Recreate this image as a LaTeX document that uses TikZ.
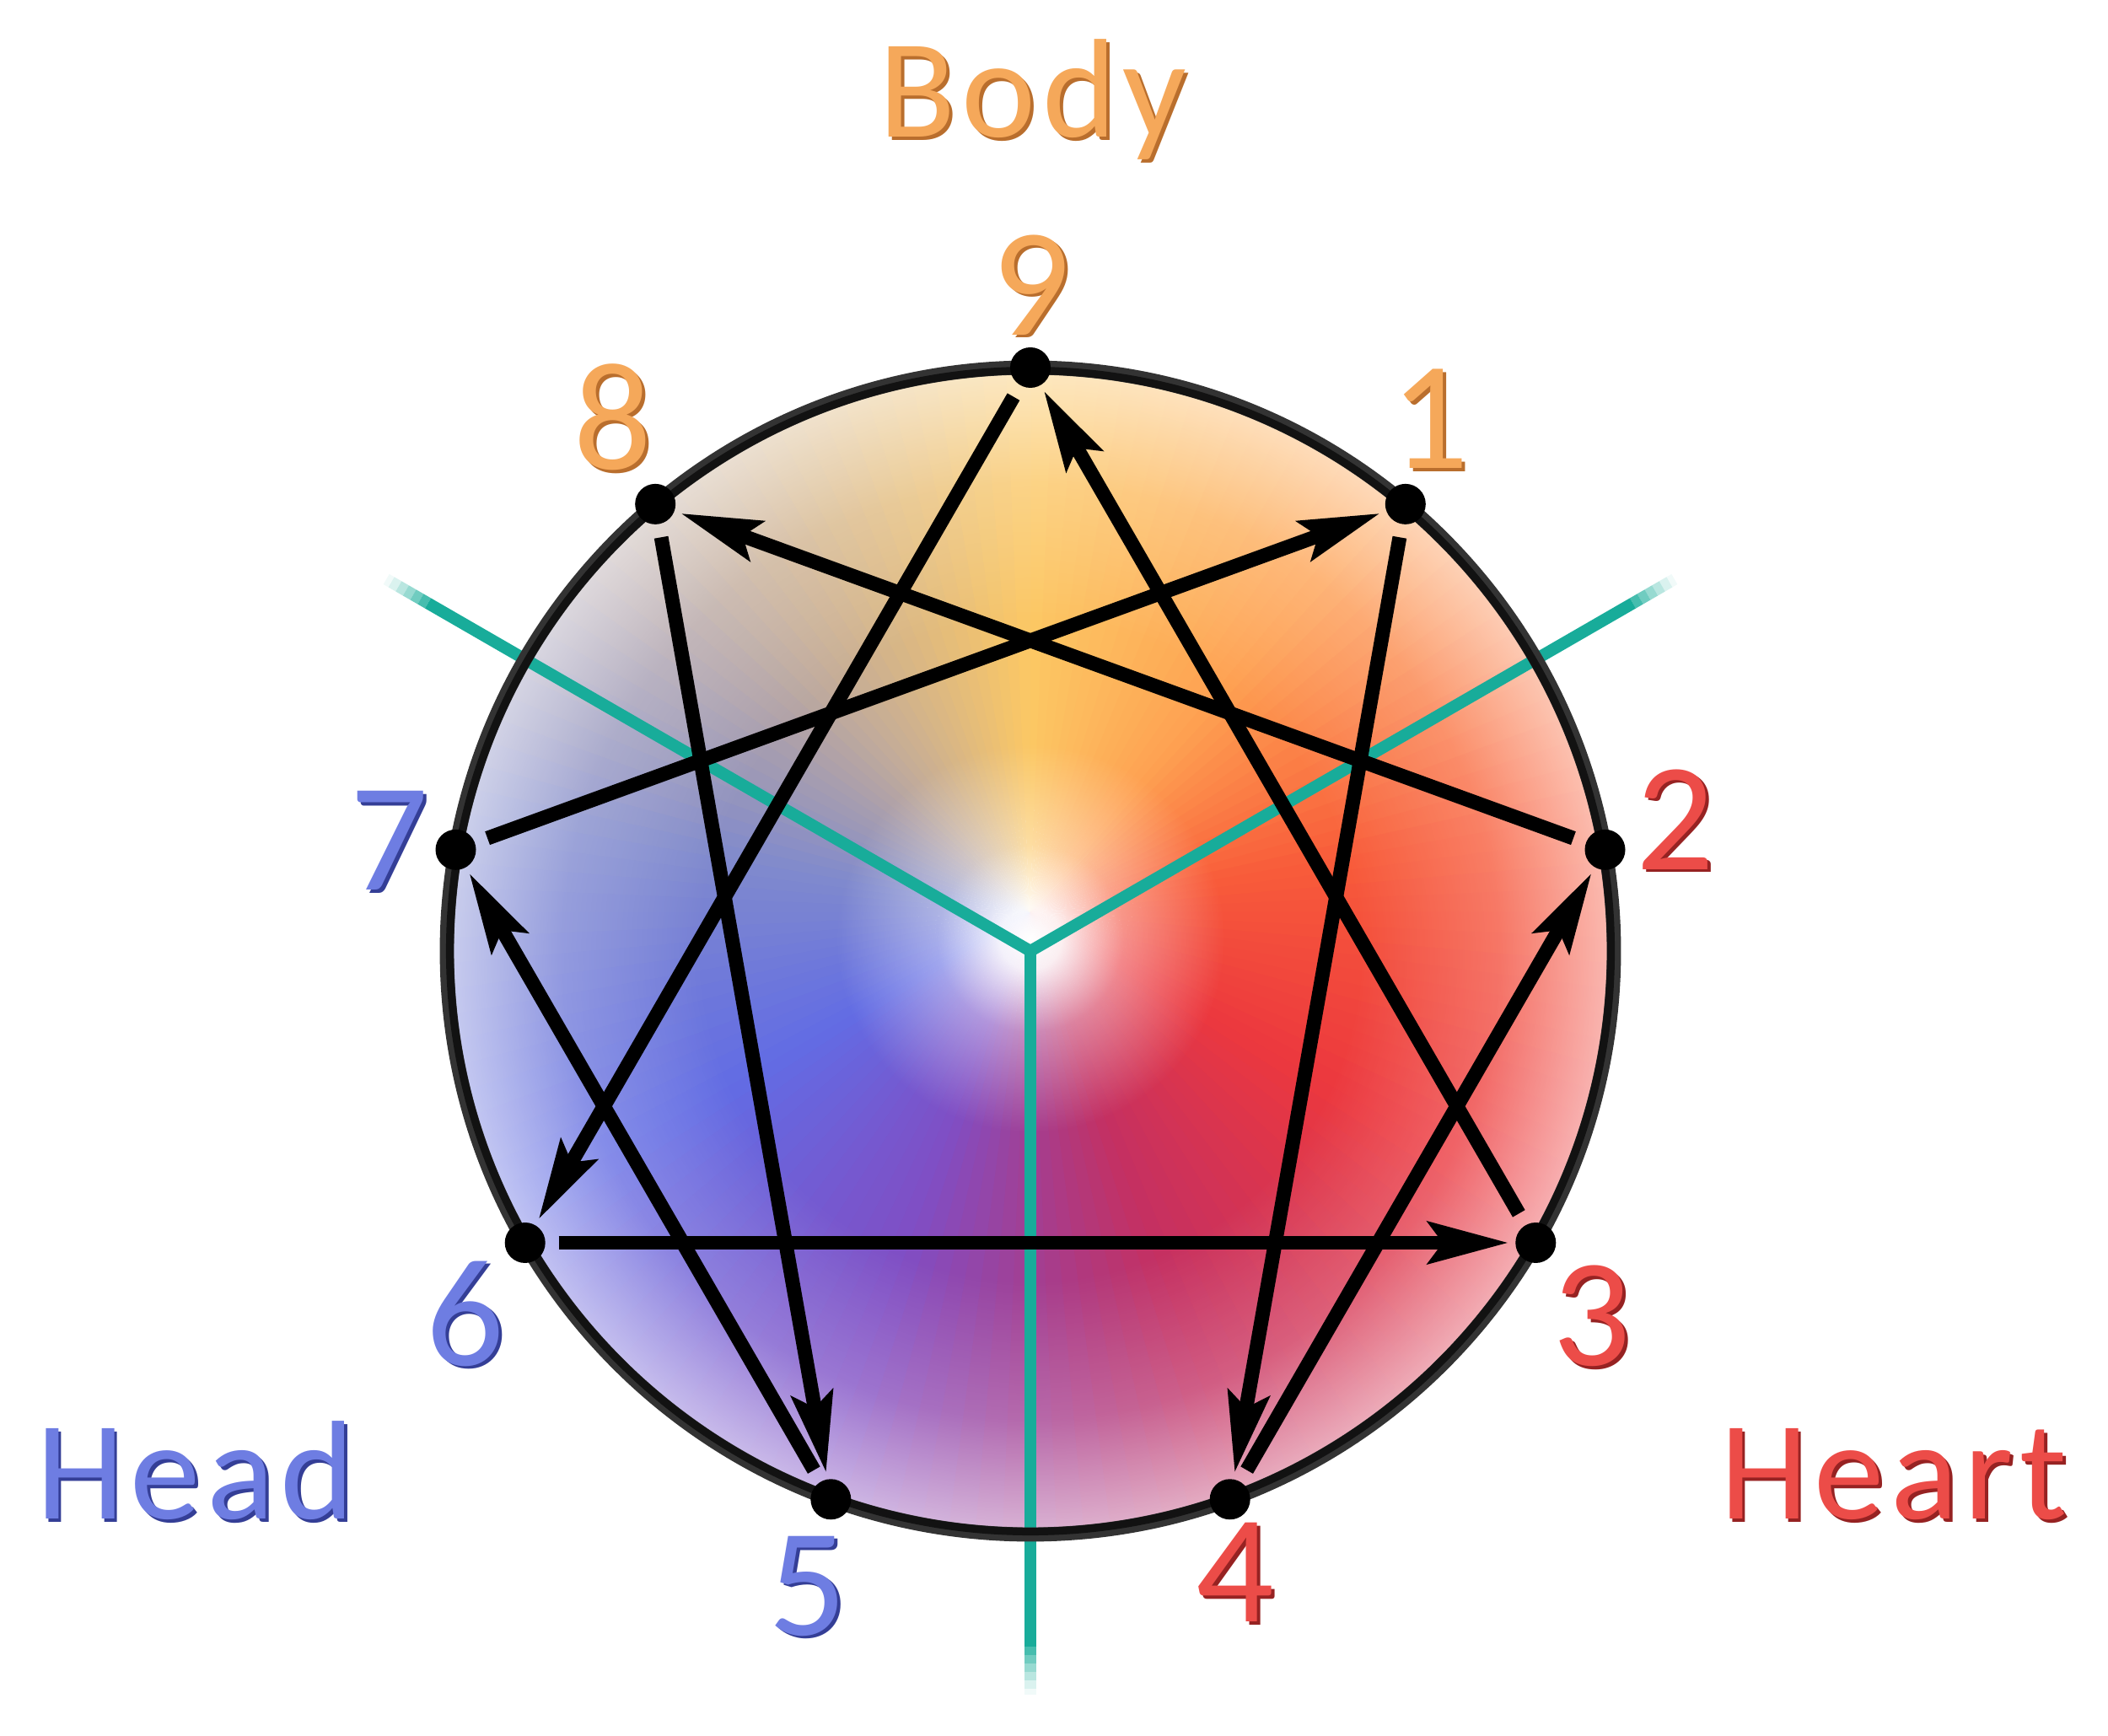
\documentclass[tikz,border=0pt]{standalone}
\usepackage{fontspec}
\usetikzlibrary{arrows.meta,fadings}
\newfontfamily\ennfont[LetterSpace=4.5]{Carlito}

\definecolor{bodyc}{RGB}{245,168,90}
\definecolor{bodydk}{RGB}{185,110,45}
\definecolor{headc}{RGB}{110,125,226}
\definecolor{headdk}{RGB}{52,62,150}
\definecolor{heartc}{RGB}{236,76,72}
\definecolor{heartdk}{RGB}{150,34,34}
\definecolor{triad}{RGB}{24,172,154}
% colours of the field, one per point of the circle
\definecolor{sect9}{RGB}{252,200,100}
\definecolor{sect1}{RGB}{254,162,82}
\definecolor{sect2}{RGB}{248,92,58}
\definecolor{sect3}{RGB}{236,56,62}
\definecolor{sect4}{RGB}{196,48,98}
\definecolor{sect5}{RGB}{128,78,196}
\definecolor{sect6}{RGB}{98,108,228}
\definecolor{sect7}{RGB}{128,138,205}
\definecolor{sect8}{RGB}{196,172,152}

% radius of the filled circle = 25bp in a fitted fading
\pgfdeclareradialshading{hubshade}{\pgfpointorigin}{color(0bp)=(white); color(4bp)=(white!92!black); color(12bp)=(white!40!black); color(25bp)=(black); color(50bp)=(black)}
\pgfdeclarefading{hubfade}{\pgfuseshading{hubshade}}
\pgfdeclareradialshading{rimshade}{\pgfpointorigin}{color(0bp)=(black); color(14bp)=(black); color(20bp)=(white!22!black); color(25bp)=(white!62!black); color(50bp)=(white!62!black)}
\pgfdeclarefading{rimfade}{\pgfuseshading{rimshade}}

\newcommand\embossed[3]{\makebox[0pt][l]{\smash{\raisebox{-1pt}{\kern1pt\textcolor{#2}{#3}}}}\textcolor{#1}{#3}}

\tikzset{
  enneadot/.style   = {circle, fill=black, minimum size=4.8mm, inner sep=0pt, outer sep=0pt},
  enneaarrow/.style = {-{Stealth[length=9.5mm, width=4.9mm, inset=1.7mm]}, line width=4.8pt,
                       shorten <=1.6mm, shorten >=0.8mm},
  triadline/.style  = {draw=triad, line width=4pt},
  rimline/.style    = {draw=black!80, line width=4.8pt},
  riminner/.style   = {draw=black!93, line width=2.6pt},
  numlbl/.style     = {font=\ennfont\fontsize{52}{52}\selectfont, inner sep=0pt},
  grouplbl/.style   = {font=\ennfont\fontsize{47.5}{48}\selectfont, inner sep=0pt, anchor=base},
}

\begin{document}
\begin{tikzpicture}
  \useasboundingbox (0,0) rectangle (25,20.58);
  \coordinate (C) at (12.22,9.30);
  \coordinate (hue) at (12.21,9.76);
  \coordinate (hub) at (12.22,9.45);

  % colour field
  \begin{scope}
    \clip (C) circle (6.92);
    \foreach \ca/\cb [count=\k from 0] in {sect9/sect1,sect1/sect2,sect2/sect3,sect3/sect4,sect4/sect5,sect5/sect6,sect6/sect7,sect7/sect8,sect8/sect9}{
      \foreach \s in {0,...,15}{
        \pgfmathsetmacro\ang{90-40*\k-2.5*\s}
        \pgfmathsetmacro\pct{100-6.25*(\s+0.5)}
        \colorlet{wedge}{\ca!\pct!\cb}
        \fill[wedge] (hue) -- ++(\ang:7.8) arc[start angle=\ang, end angle=\ang-2.7, radius=7.8] -- cycle;
      }
    }
    \fill[white, path fading=rimfade] (C) circle (6.92);
    \fill[white, path fading=hubfade] (hub) circle (2.3);
  \end{scope}

  % the three centres
  \foreach \a in {150,30,-90}{
    \draw[triadline] (C) -- ++(\a:8.25);
    \foreach \r/\q/\op in {8.25/8.35/0.8,8.35/8.45/0.62,8.45/8.55/0.45,8.55/8.65/0.3,8.65/8.75/0.16,8.75/8.82/0.06}
      \draw[triadline, draw opacity=\op] ([shift={(\a:\r)}]C) -- ([shift={(\a:\q)}]C);
  }

  \draw[rimline] (C) circle (6.92);
  \draw[riminner] (C) circle (6.885);

  \foreach \n [count=\i from 0] in {9,1,2,3,4,5,6,7,8}
    \node[enneadot] (p\n) at ([shift={(90-40*\i:6.92)}]C) {};

  \foreach \a/\b in {9/6,3/9,6/3,1/4,4/2,2/8,8/5,5/7,7/1}
    \draw[enneaarrow] (p\a) -- (p\b);

  \node[numlbl] (n9) at (12.23,17.20) {\embossed{bodyc}{bodydk}{9}};
  \node[numlbl] (n1) at (16.96,15.61) {\embossed{bodyc}{bodydk}{1}};
  \node[numlbl] (n8) at (7.27,15.63)  {\embossed{bodyc}{bodydk}{8}};
  \node[numlbl] (n2) at (19.87,10.86) {\embossed{heartc}{heartdk}{2}};
  \node[numlbl] (n3) at (18.88,4.97)  {\embossed{heartc}{heartdk}{3}};
  \node[numlbl] (n4) at (14.65,1.93)  {\embossed{heartc}{heartdk}{4}};
  \node[numlbl] (n5) at (9.58,1.77)   {\embossed{headc}{headdk}{5}};
  \node[numlbl] (n6) at (5.52,5.00)   {\embossed{headc}{headdk}{6}};
  \node[numlbl] (n7) at (4.62,10.61)  {\embossed{headc}{headdk}{7}};

  \node[grouplbl] (body)  at (12.25,18.95) {\embossed{bodyc}{bodydk}{Body}};
  \node[grouplbl] (head)  at (2.32,2.56)   {\embossed{headc}{headdk}{Head}};
  \node[grouplbl] (heart) at (22.46,2.56)  {\embossed{heartc}{heartdk}{Heart}};
\end{tikzpicture}
\end{document}
